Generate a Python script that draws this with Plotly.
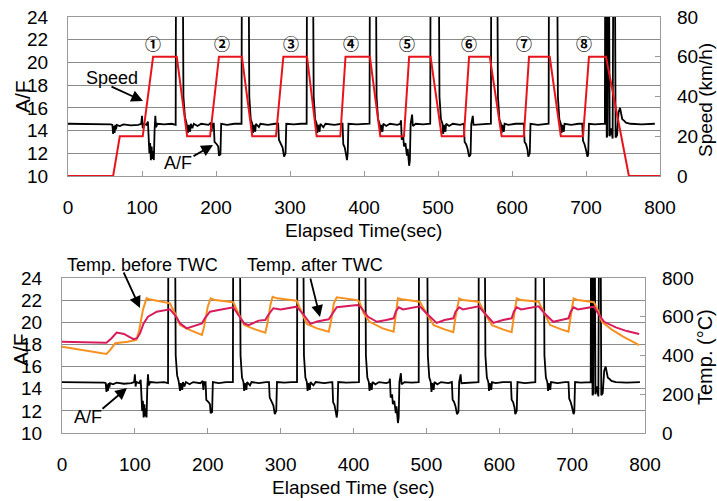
import plotly.graph_objects as go

W, H = 717, 501

# ---------------- data ----------------
# A/F (air-fuel ratio), shared by both panels; 30 = off-scale (fuel cut)
af_t = [0, 20, 40, 58, 60, 61, 62, 63, 64, 65, 66, 70, 75, 85, 95, 99, 100, 101, 102, 106, 108, 109, 110, 111, 112, 113, 114, 115, 116, 117, 118, 119, 121, 130, 140, 145.5,
        146, 155, 156, 158, 160, 162, 163, 165, 166, 168, 170, 175, 180, 190,
        193, 194, 195, 197, 198, 201, 203, 204, 206, 207, 215, 225, 234.5, 235, 244, 245, 247, 249, 250, 251, 253, 254, 258, 260, 270, 280,
        284, 285, 288, 290, 292, 294, 295, 305, 315, 322.5, 323, 331, 332, 334, 336, 337, 338, 340, 341, 345, 348, 360, 370,
        371, 372, 374, 376, 377, 378, 379, 390, 400, 407.5, 408, 416, 417, 419, 421, 422, 423, 425, 426, 430, 435, 445,
        449, 450, 451, 453, 454, 456, 458, 459, 461, 462, 463, 465, 466, 470, 480, 489.5, 490, 501, 502, 504, 506, 507, 508, 510, 511, 515, 520, 530,
        535, 536, 538, 540, 542, 544, 545, 547, 548, 560, 571.5, 572, 580, 581, 583, 585, 586, 587, 589, 590, 595, 605, 614,
        616, 617, 619, 621, 622, 624, 625, 635, 645, 649.5, 650, 661, 662, 664, 666, 667, 668, 670, 671, 680, 690, 695,
        696, 698, 700, 702, 703, 704, 712, 720, 725.5, 726, 727, 728, 729, 730, 731, 732, 733, 734, 736, 737, 739, 740, 742, 744, 746, 747, 749, 751, 754, 760, 775, 793]
af_v = [14.6, 14.6, 14.6, 14.55, 14.5, 13.7, 14.4, 13.8, 14.5, 14.1, 14.5, 14.4, 14.55, 14.45, 14.5, 14.6, 15.3, 14.2, 14.6, 14.5, 14.8, 13.2, 12.0, 12.9, 11.4, 12.6, 11.5, 12.2, 11.4, 14.0, 15.3, 14.3, 14.6, 14.55, 14.6, 14.5,
        30, 30, 17, 15.2, 14.7, 13.8, 14.5, 13.9, 14.6, 14.2, 14.6, 14.4, 14.6, 14.5,
        14.7, 13.9, 14.6, 14.6, 13.0, 12.8, 12.6, 11.8, 11.9, 14.6, 14.5, 14.6, 14.6, 30, 30, 17, 15.0, 14.6, 13.8, 14.5, 13.9, 14.6, 14.3, 14.6, 14.5, 14.6,
        14.6, 13.2, 12.8, 12.5, 11.7, 12.0, 14.6, 14.55, 14.6, 14.6, 30, 30, 17, 15.0, 14.6, 13.8, 14.5, 13.9, 14.6, 14.3, 14.6, 14.5, 14.6,
        14.6, 12.8, 12.5, 11.8, 11.4, 12.0, 14.6, 14.55, 14.6, 14.6, 30, 30, 17, 15.0, 14.6, 13.8, 14.5, 13.9, 14.6, 14.4, 14.6, 14.5,
        14.6, 14.9, 13.2, 13.5, 12.6, 12.9, 11.8, 12.4, 10.9, 11.4, 14.6, 15.4, 14.4, 14.6, 14.55, 14.6, 30, 30, 17, 15.0, 14.6, 13.7, 14.5, 13.9, 14.6, 14.4, 14.6, 14.5,
        14.6, 13.0, 12.8, 12.4, 11.7, 11.9, 14.6, 15.3, 14.5, 14.55, 14.6, 30, 30, 17, 15.0, 14.6, 13.8, 14.5, 13.9, 14.6, 14.5, 14.6, 14.55,
        14.6, 13.0, 12.8, 12.3, 11.7, 12.0, 14.6, 14.5, 14.6, 14.6, 30, 30, 17, 15.0, 14.6, 13.8, 14.5, 13.9, 14.6, 14.5, 14.6, 14.6,
        13.1, 12.8, 12.3, 11.7, 11.9, 14.6, 14.55, 14.6, 14.6, 30, 30, 13.4, 13.6, 30, 30, 13.5, 13.8, 14.2, 13.3, 30, 30, 13.4, 13.6, 15.6, 16.0, 15.6, 15.0, 14.9, 14.7, 14.6, 14.55, 14.6]

# Vehicle speed (km/h)
speed_t = [0, 61, 70, 101, 115, 147, 161, 192, 204, 235, 249, 281, 291, 323, 336, 368, 375, 408, 422,
           454, 461, 490, 505, 535, 542, 570, 586, 616, 623, 651, 666, 696, 704, 727, 758, 800]
speed_v = [0, 0, 20, 20, 60, 60, 20, 20, 60, 60, 20, 20, 60, 60, 20, 20, 60, 60, 20,
           20, 60, 60, 20, 20, 60, 60, 20, 20, 60, 60, 20, 20, 60, 60, 0, 0]

# Temperature before TWC (deg C)
tb_t = [0, 30, 61, 66, 73, 90, 102, 106, 111, 116, 120, 148, 155, 162, 175, 192, 195, 200, 204, 210, 235, 242, 250, 265,
        279, 282, 286, 289, 295, 322, 330, 336, 350, 366, 369, 373, 377, 405, 408, 414, 422, 440, 455, 458, 461, 466,
        491, 500, 510, 525, 537, 540, 545, 550, 572, 580, 590, 605, 617, 620, 624, 630, 654, 662, 670, 685, 695, 698,
        702, 708, 730, 735, 741, 755, 770, 792]
tb_v = [445, 425, 408, 428, 463, 471, 480, 532, 635, 695, 690, 669, 618, 557, 532, 506, 549, 652, 695, 686, 675, 618, 557, 535,
        518, 566, 661, 703, 695, 683, 618, 563, 540, 523, 574, 669, 700, 686, 678, 618, 574, 540, 523, 600, 695, 690,
        678, 618, 557, 535, 520, 600, 695, 686, 678, 618, 557, 535, 520, 600, 695, 686, 678, 618, 557, 535, 523, 600,
        695, 686, 675, 635, 574, 532, 497, 454]

# Temperature after TWC (deg C)
ta_t = [0, 61, 68, 75, 85, 98, 103, 107, 112, 118, 130, 148, 155, 162, 171, 180, 192, 196, 203, 215, 235, 242, 250, 256,
        270, 279, 283, 290, 300, 322, 330, 341, 350, 366, 370, 377, 405, 410, 420, 432, 445, 455, 458, 462, 468,
        491, 500, 514, 525, 537, 540, 545, 550, 572, 580, 592, 605, 617, 620, 624, 630, 654, 662, 674, 685, 695,
        698, 702, 708, 730, 737, 744, 760, 775, 792]
ta_v = [471, 466, 489, 518, 511, 484, 489, 514, 566, 600, 626, 638, 609, 566, 540, 552, 566, 592, 626, 635, 649, 609, 566, 557,
        580, 583, 609, 644, 638, 652, 618, 563, 575, 587, 609, 649, 661, 649, 600, 574, 583, 592, 626, 649, 638,
        654, 618, 568, 583, 592, 626, 649, 638, 654, 618, 568, 583, 592, 626, 649, 638, 654, 618, 574, 583, 592,
        626, 649, 638, 652, 609, 574, 545, 526, 511]

cycle_labels = ["①", "②", "③", "④", "⑤", "⑥", "⑦", "⑧"]
cycle_label_t = [115, 208, 302, 383, 458, 542, 616, 697]

# ---------------- figure ----------------
FONT = "Liberation Sans, Arial, sans-serif"
GRID = "#8a8a8a"
FRAME = "#9a9a9a"

def px(x):
    return x / W

def py(y):
    return 1 - y / H

fig = go.Figure()
fig.add_trace(go.Scatter(x=af_t, y=af_v, mode="lines", line=dict(color="black", width=1.8),
                         xaxis="x", yaxis="y", showlegend=False))
fig.add_trace(go.Scatter(x=speed_t, y=speed_v, mode="lines", line=dict(color="#e8141c", width=2),
                         xaxis="x", yaxis="y2", showlegend=False))
fig.add_trace(go.Scatter(x=af_t, y=af_v, mode="lines", line=dict(color="black", width=1.8),
                         xaxis="x2", yaxis="y3", showlegend=False))
fig.add_trace(go.Scatter(x=tb_t, y=tb_v, mode="lines", line=dict(color="#f7901e", width=2),
                         xaxis="x2", yaxis="y4", showlegend=False))
fig.add_trace(go.Scatter(x=ta_t, y=ta_v, mode="lines", line=dict(color="#d81b5c", width=2),
                         xaxis="x2", yaxis="y4", showlegend=False))

tickfont = dict(family=FONT, size=19, color="black")
xcommon = dict(range=[0, 800], dtick=100, tick0=0, ticks="inside", ticklen=5, tickcolor=FRAME,
               showgrid=False, showline=True, mirror=True, linecolor=FRAME, linewidth=1,
               tickfont=tickfont, ticklabelstandoff=14, zeroline=False, automargin=False)
yleft = dict(range=[10, 24], dtick=2, tick0=10, ticks="", showgrid=True, gridcolor=GRID, gridwidth=1,
             showline=True, mirror=True, linecolor=FRAME, linewidth=1, tickfont=tickfont,
             ticklabelstandoff=15, zeroline=False, automargin=False)
yright = dict(side="right", ticks="inside", ticklen=5, tickcolor=FRAME, showgrid=False,
              showline=False, tickfont=tickfont, ticklabelstandoff=16, zeroline=False, automargin=False)

fig.update_layout(
    template="none",
    width=W, height=H, margin=dict(l=0, r=0, t=0, b=0, autoexpand=False),
    paper_bgcolor="white", plot_bgcolor="white",
    font=dict(family=FONT, color="black"),
    xaxis=dict(domain=[px(68), px(660)], anchor="y", **xcommon),
    yaxis=dict(domain=[py(176), py(17)], anchor="x", **yleft),
    yaxis2=dict(overlaying="y", anchor="x", range=[0, 80], dtick=20, tick0=0, **yright),
    xaxis2=dict(domain=[px(62), px(645)], anchor="y3", **xcommon),
    yaxis3=dict(domain=[py(433), py(278)], anchor="x2", **yleft),
    yaxis4=dict(overlaying="y3", anchor="x2", range=[0, 800], dtick=200, tick0=0, **yright),
)

ann = []
def text(x, y, s, size=18, angle=0, family=FONT):
    ann.append(dict(x=px(x), y=py(y), xref="paper", yref="paper", text=s, showarrow=False,
                    textangle=angle, font=dict(family=family, size=size, color="black"),
                    xanchor="center", yanchor="middle"))

def arrow(x0, y0, x1, y1):
    ann.append(dict(x=px(x1), y=py(y1), xref="paper", yref="paper", text="", showarrow=True,
                    ax=x0 - x1, ay=y0 - y1, axref="pixel", ayref="pixel",
                    arrowhead=2, arrowsize=1.3, arrowwidth=1.8, arrowcolor="black", standoff=0))

# axis titles
text(22, 97, "A/F", size=21, angle=-90)
text(706, 100, "Speed (km/h)", size=19, angle=-90)
text(363, 231, "Elapsed Time(sec)", size=19)
text(20, 350, "A/F", size=21, angle=-90)
text(705, 357, "Temp. (°C)", size=20, angle=-90)
text(353, 487, "Elapsed Time (sec)", size=19)

# cycle numbers
for lab, t in zip(cycle_labels, cycle_label_t):
    ann.append(dict(x=t, y=21.71, xref="x", yref="y", text=lab, showarrow=False,
                    font=dict(family="Noto Sans CJK JP", size=16, color="black", weight="bold")))

# callouts
text(112, 78, "Speed", size=18)
arrow(110, 86, 143, 101)
text(178, 163, "A/F", size=18)
arrow(192, 157, 213, 145)
text(142, 265, "Temp. before TWC", size=18)
arrow(123, 271, 140, 308)
text(315, 265, "Temp. after TWC", size=18)
arrow(310, 277, 320, 317)
text(88, 417, "A/F", size=18)
arrow(101, 410, 127, 388)

fig.update_layout(annotations=ann)
fig.write_html("out.html")
